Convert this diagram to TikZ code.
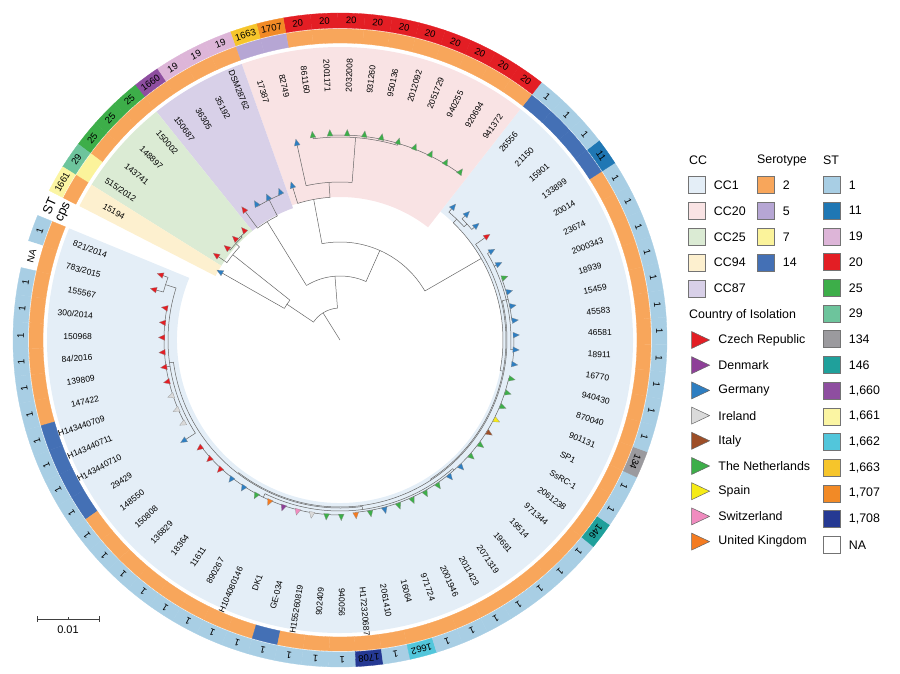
\documentclass[tikz,border=0pt]{standalone}
\usepackage{fontspec}
\setmainfont{Liberation Sans}
\usetikzlibrary{positioning}
\usetikzlibrary{shapes.geometric}
\usetikzlibrary{calc}

% clonal complexes
\definecolor{ccOne}{HTML}{E4EEF7}
\definecolor{ccTwenty}{HTML}{F9E3E4}
\definecolor{ccTwentyfive}{HTML}{DBEBD4}
\definecolor{ccNinetyfour}{HTML}{FDF0CF}
\definecolor{ccEightyseven}{HTML}{D8D0E8}
% serotypes
\definecolor{sero2}{HTML}{F8A65B}
\definecolor{sero5}{HTML}{B6A6D4}
\definecolor{sero7}{HTML}{FBF39B}
\definecolor{sero14}{HTML}{4470B5}
% sequence types
\definecolor{st1}{HTML}{A8CEE4}
\definecolor{st11}{HTML}{1F77B4}
\definecolor{st19}{HTML}{DDB5D8}
\definecolor{st20}{HTML}{E31E24}
\definecolor{st25}{HTML}{3DAE49}
\definecolor{st29}{HTML}{6DC49C}
\definecolor{st134}{HTML}{9B9A9E}
\definecolor{st146}{HTML}{1FA09B}
\definecolor{st1660}{HTML}{8E4EA0}
\definecolor{st1661}{HTML}{FBF5A3}
\definecolor{st1662}{HTML}{52C6DB}
\definecolor{st1663}{HTML}{F6C52B}
\definecolor{st1707}{HTML}{F28A26}
\definecolor{st1708}{HTML}{253993}
\definecolor{stNA}{HTML}{FFFFFF}
% countries
\definecolor{czC}{HTML}{E31E24}
\definecolor{dkC}{HTML}{8E3F98}
\definecolor{deC}{HTML}{2E7EC1}
\definecolor{ieC}{HTML}{DADADA}
\definecolor{itC}{HTML}{9D4E27}
\definecolor{nlC}{HTML}{3DAE49}
\definecolor{esC}{HTML}{F6EB16}
\definecolor{chC}{HTML}{F08BBF}
\definecolor{ukC}{HTML}{F47B20}

\begin{document}
\begin{tikzpicture}[x=1pt,y=1pt,
    branch/.style={draw=black!60,line width=0.5pt},
    tipedge/.style={draw=black!45,line width=0.2pt},
    leaflabel/.style={inner sep=0pt,font=\fontsize{8.5}{10}\selectfont},
    stlabel/.style={inner sep=0pt,font=\fontsize{9.5}{11}\selectfont},
    ringhead/.style={inner sep=0pt,font=\fontsize{13}{15}\selectfont},
    legtext/.style={inner sep=0pt,font=\fontsize{12.4}{14}\selectfont},
    legbox/.style={draw=black!55,line width=0.5pt,minimum size=17pt,inner sep=0pt},
    legtri/.style={isosceles triangle,isosceles triangle stretches,minimum width=17pt,
                   minimum height=18pt,inner sep=0pt,draw=black!60,line width=0.5pt}]
\useasboundingbox (-340,-334) rectangle (560,340);

\newcommand{\ccSector}[4]{\fill[#1] (#3:#2pt) arc[start angle=#3,end angle=#4,radius=#2pt]
    -- (#4:293pt) arc[start angle=#4,end angle=#3,radius=293pt] -- cycle;}
\newcommand{\stem}[3]{\draw[branch] (#1:#2pt) -- (#1:#3pt);}
\newcommand{\clade}[3]{\draw[branch] (#2:#1pt) arc[start angle=#2,end angle=#3,radius=#1pt];}

\newcounter{LeafCount}
\newcommand{\newLeaf}[7]{%
    \edef\idx{\arabic{LeafCount}}%
    \pgfmathsetmacro{\ang}{160+4.8*\idx}%
    \pgfmathsetmacro{\angA}{\ang-2.4}%
    \pgfmathsetmacro{\angB}{\ang+2.4}%
    \pgfmathsetmacro{\wrap}{mod(\ang,360)}%
    \def\lrot{\ang}\def\lanc{west}%
    \ifdim\wrap pt>90pt\ifdim\wrap pt<270pt\pgfmathsetmacro{\lrot}{\ang+180}\def\lanc{east}\fi\fi
    \fill[#2,draw=#2,line width=0.3pt] (\angA:297pt) arc[start angle=\angA,end angle=\angB,radius=297pt]
        -- (\angB:311pt) arc[start angle=\angB,end angle=\angA,radius=311pt] -- cycle;
    \fill[#3,draw=#3,line width=0.3pt] (\angA:312pt) arc[start angle=\angA,end angle=\angB,radius=312pt]
        -- (\angB:327pt) arc[start angle=\angB,end angle=\angA,radius=327pt] -- cycle;
    \node[stlabel,rotate=\ang-90] (st\idx) at (\ang:319.5pt) {#4};
    \node[leaflabel,rotate=\lrot,anchor=\lanc] (leaf\idx) at (\ang:248pt) {#1};
    \draw[branch] (\ang:#6pt) -- (\ang:#7pt);
    \filldraw[tipedge,fill=#5,shift={(\ang:#7pt)},rotate=\ang] (3.6,0) -- (-2.8,2.9) -- (-2.8,-2.9) -- cycle;
    \stepcounter{LeafCount}}

% clonal complex backgrounds
\ccSector{ccOne}{163}{157.6}{412}
\ccSector{ccTwenty}{143}{412}{469.6}
\ccSector{ccEightyseven}{140}{469.6}{488.8}
\ccSector{ccTwentyfive}{140}{488.8}{508}
\ccSector{ccNinetyfour}{140}{508}{512.8}

% backbone
\stem{482}{0}{32}      \clade{32}{454.5}{506}
\stem{506}{32}{64}     \clade{64}{501.5}{510.4}
\stem{501.5}{64}{137}  \clade{137}{497.2}{505.6}
\stem{497.2}{137}{142} \clade{142}{493.6}{500.8}
\stem{493.6}{142}{143.5} \clade{143.5}{491.2}{496}
\stem{454.5}{32}{64}   \clade{64}{426}{481.6}
\stem{481.6}{64}{139}  \clade{139}{476.8}{486.4}
\stem{476.8}{139}{157} \clade{157}{472}{481.6}
\stem{426}{64}{98}     \clade{98}{390}{460.6}
% CC20
\stem{460.6}{98}{143}  \clade{143}{454}{467.2}
\stem{454}{143}{158}   \clade{158}{445.6}{462.4}
\stem{445.6}{158}{203} \clade{203}{433.6}{457.6}
\stem{433.6}{203}{205} \clade{205}{414.4}{452.8}
% CC1
\stem{390}{98}{163}    \clade{163}{349.2}{406}
\stem{406}{163}{168}   \clade{168}{402.4}{409.6}
\stem{402.4}{168}{172} \clade{172}{400}{404.8}
\stem{349.2}{163}{166} \clade{166}{303.1}{395.2}
\stem{303.1}{166}{167} \clade{167}{232.6}{373.6}
\stem{373.6}{167}{171} \clade{171}{356.8}{390.4}
\stem{373.6}{171}{173} \clade{173}{366.4}{380.8}
\stem{356.8}{171}{174} \clade{174}{352}{361.6}
\stem{232.6}{167}{168} \clade{168}{187.6}{277.6}
\stem{187.6}{168}{172} \clade{172}{162.4}{212.8}
\stem{162.4}{172}{183} \clade{183}{160}{164.8}
\stem{188.8}{172}{176} \clade{176}{169.6}{208}
\stem{277.6}{168}{171} \clade{171}{244}{311.2}
\stem{244}{171}{175}   \clade{175}{217.6}{270.4}
\stem{311.2}{171}{173} \clade{173}{275.2}{347.2}

% leaves: name, cps, ST colour, ST, country, parent radius, tip radius
\newLeaf{821/2014}{sero2}{st1}{1}{czC}{183}{191}
\newLeaf{783/2015}{sero2}{stNA}{NA}{czC}{183}{193}
\newLeaf{155567}{sero2}{st1}{1}{czC}{176}{178}
\newLeaf{300/2014}{sero2}{st1}{1}{czC}{176}{178}
\newLeaf{150968}{sero2}{st1}{1}{czC}{176}{178}
\newLeaf{84/2016}{sero2}{st1}{1}{czC}{176}{178}
\newLeaf{139809}{sero2}{st1}{1}{czC}{176}{178}
\newLeaf{147422}{sero2}{st1}{1}{czC}{176}{178}
\newLeaf{H143440709}{sero14}{st1}{1}{ieC}{176}{178}
\newLeaf{H143440711}{sero14}{st1}{1}{ieC}{176}{178}
\newLeaf{H143440710}{sero14}{st1}{1}{ieC}{176}{178}
\newLeaf{29429}{sero14}{st1}{1}{deC}{172}{186}
\newLeaf{148550}{sero2}{st1}{1}{czC}{175}{177}
\newLeaf{150808}{sero2}{st1}{1}{czC}{175}{177}
\newLeaf{136829}{sero2}{st1}{1}{czC}{175}{177}
\newLeaf{18364}{sero2}{st1}{1}{deC}{175}{177}
\newLeaf{11611}{sero2}{st1}{1}{deC}{175}{177}
\newLeaf{890267}{sero2}{st1}{1}{nlC}{175}{177}
\newLeaf{H104080146}{sero2}{st1}{1}{ukC}{175}{177}
\newLeaf{DK1}{sero2}{st1}{1}{dkC}{175}{177}
\newLeaf{GE-034}{sero14}{st1}{1}{chC}{175}{177}
\newLeaf{H155260819}{sero2}{st1}{1}{ieC}{175}{177}
\newLeaf{902409}{sero2}{st1}{1}{nlC}{175}{177}
\newLeaf{940056}{sero2}{st1}{1}{nlC}{175}{177}
\newLeaf{H172320687}{sero2}{st1708}{1708}{ukC}{173}{176}
\newLeaf{2061410}{sero2}{st1}{1}{nlC}{173}{176}
\newLeaf{16064}{sero2}{st1662}{1662}{deC}{173}{176}
\newLeaf{971724}{sero2}{st1}{1}{nlC}{173}{176}
\newLeaf{2001946}{sero2}{st1}{1}{nlC}{173}{176}
\newLeaf{2011423}{sero2}{st1}{1}{nlC}{173}{176}
\newLeaf{2071319}{sero2}{st1}{1}{nlC}{173}{176}
\newLeaf{19691}{sero2}{st1}{1}{deC}{173}{176}
\newLeaf{19514}{sero2}{st1}{1}{deC}{173}{176}
\newLeaf{971344}{sero2}{st1}{1}{nlC}{173}{176}
\newLeaf{2061238}{sero2}{st146}{146}{nlC}{173}{176}
\newLeaf{SsRC-1}{sero2}{st1}{1}{itC}{173}{176}
\newLeaf{SP1}{sero2}{st1}{1}{esC}{173}{176}
\newLeaf{901131}{sero2}{st134}{134}{nlC}{173}{176}
\newLeaf{870040}{sero2}{st1}{1}{nlC}{173}{176}
\newLeaf{940430}{sero2}{st1}{1}{nlC}{173}{176}
\newLeaf{16770}{sero2}{st1}{1}{deC}{174}{176}
\newLeaf{18911}{sero2}{st1}{1}{deC}{174}{176}
\newLeaf{46581}{sero2}{st1}{1}{deC}{174}{176}
\newLeaf{45583}{sero2}{st1}{1}{deC}{173}{176}
\newLeaf{15459}{sero2}{st1}{1}{deC}{173}{176}
\newLeaf{18939}{sero2}{st1}{1}{deC}{173}{176}
\newLeaf{2000343}{sero2}{st1}{1}{nlC}{173}{176}
\newLeaf{23674}{sero2}{st1}{1}{deC}{171}{176}
\newLeaf{20014}{sero2}{st1}{1}{deC}{171}{176}
\newLeaf{133899}{sero14}{st11}{11}{czC}{166}{180}
\newLeaf{15901}{sero14}{st1}{1}{deC}{172}{178}
\newLeaf{21150}{sero14}{st1}{1}{deC}{172}{179}
\newLeaf{26556}{sero14}{st1}{1}{deC}{168}{175}
\newLeaf{941372}{sero2}{st20}{20}{nlC}{205}{207}
\newLeaf{920694}{sero2}{st20}{20}{nlC}{205}{207}
\newLeaf{940255}{sero2}{st20}{20}{nlC}{205}{207}
\newLeaf{2051729}{sero2}{st20}{20}{nlC}{205}{207}
\newLeaf{2012092}{sero2}{st20}{20}{nlC}{205}{207}
\newLeaf{950136}{sero2}{st20}{20}{nlC}{205}{207}
\newLeaf{931260}{sero2}{st20}{20}{nlC}{205}{207}
\newLeaf{2032008}{sero2}{st20}{20}{nlC}{205}{207}
\newLeaf{2001171}{sero2}{st20}{20}{nlC}{205}{207}
\newLeaf{861160}{sero2}{st20}{20}{nlC}{203}{207}
\newLeaf{82749}{sero5}{st1707}{1707}{deC}{158}{202}
\newLeaf{17387}{sero5}{st1663}{1663}{deC}{143}{162}
\newLeaf{DSM28762}{sero2}{st19}{19}{deC}{157}{160}
\newLeaf{35192}{sero2}{st19}{19}{deC}{157}{160}
\newLeaf{36305}{sero2}{st19}{19}{deC}{157}{160}
\newLeaf{150687}{sero2}{st1660}{1660}{czC}{139}{162}
\newLeaf{150002}{sero2}{st25}{25}{czC}{143.5}{146}
\newLeaf{148897}{sero2}{st25}{25}{czC}{143.5}{146}
\newLeaf{143741}{sero2}{st25}{25}{czC}{142}{146}
\newLeaf{515/2012}{sero7}{st29}{29}{czC}{137}{150}
\newLeaf{15194}{sero2}{st1661}{1661}{deC}{64}{138}

% ring headings
\node[ringhead,rotate=65.2] (stHead) at (155.2:320pt) {ST};
\node[ringhead,rotate=65.2] (cpsHead) at (155.2:304pt) {cps};

% scale bar
\coordinate (barL) at (-303,-279);
\coordinate (barR) at (-241,-279);
\draw[black!75,line width=0.8pt] (barL) -- (barR);
\draw[black!75,line width=0.8pt] ([yshift=3pt]barL) -- ([yshift=-3pt]barL);
\draw[black!75,line width=0.8pt] ([yshift=3pt]barR) -- ([yshift=-3pt]barR);
\draw[black!75,line width=0.6pt] ($(barL)!0.5!(barR)$) -- ++(0,2);
\node[legtext,font=\fontsize{11}{13}\selectfont] (barText) at (-272,-290) {0.01};

% legend: CC
\node[legtext,anchor=west] (ccHead) at (349,180) {CC};
\node[legbox,fill=ccOne] (ccBox1) at (357,155) {};
\node[legbox,fill=ccTwenty,below=8.4pt of ccBox1] (ccBox2) {};
\node[legbox,fill=ccTwentyfive,below=8.4pt of ccBox2] (ccBox3) {};
\node[legbox,fill=ccNinetyfour,below=8.4pt of ccBox3] (ccBox4) {};
\node[legbox,fill=ccEightyseven,below=8.4pt of ccBox4] (ccBox5) {};
\node[legtext,right=8pt of ccBox1] {CC1};
\node[legtext,right=8pt of ccBox2] {CC20};
\node[legtext,right=8pt of ccBox3] {CC25};
\node[legtext,right=8pt of ccBox4] {CC94};
\node[legtext,right=8pt of ccBox5] {CC87};

% legend: serotype
\node[legtext,anchor=west] (serHead) at (417,180) {Serotype};
\node[legbox,fill=sero2] (serBox1) at (426,155) {};
\node[legbox,fill=sero5,below=8.4pt of serBox1] (serBox2) {};
\node[legbox,fill=sero7,below=8.4pt of serBox2] (serBox3) {};
\node[legbox,fill=sero14,below=8.4pt of serBox3] (serBox4) {};
\node[legtext,right=8pt of serBox1] {2};
\node[legtext,right=8pt of serBox2] {5};
\node[legtext,right=8pt of serBox3] {7};
\node[legtext,right=8pt of serBox4] {14};

% legend: ST
\node[legtext,anchor=west] (stLegHead) at (483,180) {ST};
\node[legbox,fill=st1] (stBox1) at (492,155) {};
\node[legbox,fill=st11,below=8.2pt of stBox1] (stBox2) {};
\node[legbox,fill=st19,below=8.2pt of stBox2] (stBox3) {};
\node[legbox,fill=st20,below=8.2pt of stBox3] (stBox4) {};
\node[legbox,fill=st25,below=8.2pt of stBox4] (stBox5) {};
\node[legbox,fill=st29,below=8.2pt of stBox5] (stBox6) {};
\node[legbox,fill=st134,below=8.2pt of stBox6] (stBox7) {};
\node[legbox,fill=st146,below=8.2pt of stBox7] (stBox8) {};
\node[legbox,fill=st1660,below=8.2pt of stBox8] (stBox9) {};
\node[legbox,fill=st1661,below=8.2pt of stBox9] (stBox10) {};
\node[legbox,fill=st1662,below=8.2pt of stBox10] (stBox11) {};
\node[legbox,fill=st1663,below=8.2pt of stBox11] (stBox12) {};
\node[legbox,fill=st1707,below=8.2pt of stBox12] (stBox13) {};
\node[legbox,fill=st1708,below=8.2pt of stBox13] (stBox14) {};
\node[legbox,fill=stNA,below=8.2pt of stBox14] (stBox15) {};
\node[legtext,right=8pt of stBox1] {1};
\node[legtext,right=8pt of stBox2] {11};
\node[legtext,right=8pt of stBox3] {19};
\node[legtext,right=8pt of stBox4] {20};
\node[legtext,right=8pt of stBox5] {25};
\node[legtext,right=8pt of stBox6] {29};
\node[legtext,right=8pt of stBox7] {134};
\node[legtext,right=8pt of stBox8] {146};
\node[legtext,right=8pt of stBox9] {1,660};
\node[legtext,right=8pt of stBox10] {1,661};
\node[legtext,right=8pt of stBox11] {1,662};
\node[legtext,right=8pt of stBox12] {1,663};
\node[legtext,right=8pt of stBox13] {1,707};
\node[legtext,right=8pt of stBox14] {1,708};
\node[legtext,right=8pt of stBox15] {NA};

% legend: country of isolation
\node[legtext,anchor=west] (coHead) at (349,25) {Country of Isolation};
\node[legtri,fill=czC] (coCz) at (357,0) {};
\node[legtri,fill=dkC] (coDk) at (357,-25.2) {};
\node[legtri,fill=deC] (coDe) at (357,-50.4) {};
\node[legtri,fill=ieC] (coIe) at (357,-75.6) {};
\node[legtri,fill=itC] (coIt) at (357,-100.8) {};
\node[legtri,fill=nlC] (coNl) at (357,-126) {};
\node[legtri,fill=esC] (coEs) at (357,-151.2) {};
\node[legtri,fill=chC] (coCh) at (357,-176.4) {};
\node[legtri,fill=ukC] (coUk) at (357,-201.6) {};
\node[legtext,right=8pt of coCz] {Czech Republic};
\node[legtext,right=8pt of coDk] {Denmark};
\node[legtext,right=8pt of coDe] {Germany};
\node[legtext,right=8pt of coIe] {Ireland};
\node[legtext,right=8pt of coIt] {Italy};
\node[legtext,right=8pt of coNl] {The Netherlands};
\node[legtext,right=8pt of coEs] {Spain};
\node[legtext,right=8pt of coCh] {Switzerland};
\node[legtext,right=8pt of coUk] {United Kingdom};
\end{tikzpicture}
\end{document}
